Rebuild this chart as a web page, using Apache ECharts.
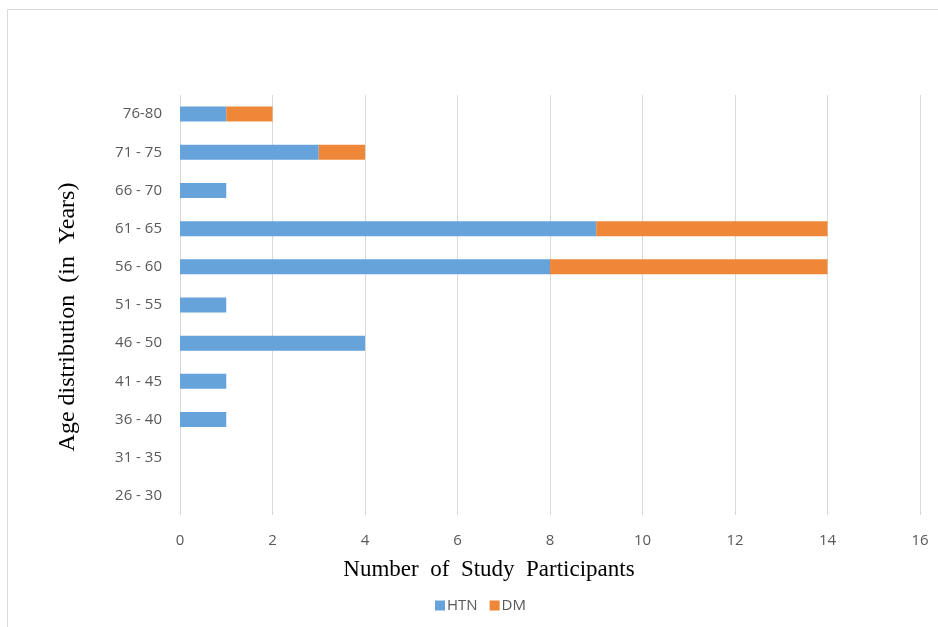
<!DOCTYPE html>
<html>
<head>
<meta charset="utf-8">
<script src="https://cdn.jsdelivr.net/npm/echarts@6/dist/echarts.min.js"></script>
<style>
  html, body { margin: 0; padding: 0; background: #fff; }
  #chart { width: 938px; height: 627px; }
</style>
</head>
<body>
<div id="chart"></div>
<script>
// Age groups, listed bottom to top
const ageGroups = ['26 - 30', '31 - 35', '36 - 40', '41 - 45', '46 - 50', '51 - 55',
                   '56 - 60', '61 - 65', '66 - 70', '71 - 75', '76-80'];
// Participants per age group
const htnCounts = [0, 0, 1, 1, 4, 1, 8, 9, 1, 3, 1];
const dmCounts  = [0, 0, 0, 0, 0, 0, 6, 5, 0, 1, 1];
// Value axis range
const xMin = 0, xMax = 16, xStep = 2;

const labelFont = '"Open Sans", "Noto Sans", sans-serif';
const serifFont = '"Liberation Serif", "DejaVu Serif", serif';

const chart = echarts.init(document.getElementById('chart'));
chart.setOption({
  animation: false,
  backgroundColor: '#ffffff',
  grid: { left: 180, right: 18, top: 95, bottom: 112, containLabel: false },
  xAxis: {
    type: 'value',
    min: xMin, max: xMax, interval: xStep,
    axisLine: { show: false },
    axisTick: { show: false },
    axisLabel: { color: '#595959', fontSize: 15, fontFamily: labelFont, margin: 18 },
    splitLine: { show: true, lineStyle: { color: '#d9d9d9', width: 1 } }
  },
  yAxis: {
    type: 'category',
    data: ageGroups,
    axisLine: { show: false },
    axisTick: { show: false },
    axisLabel: { color: '#595959', fontSize: 15, fontFamily: labelFont, margin: 18 },
    splitLine: { show: false }
  },
  legend: {
    data: ['HTN', 'DM'],
    left: 430, top: 593,
    itemWidth: 10, itemHeight: 10, itemGap: 12,
    icon: 'rect',
    textStyle: { color: '#595959', fontSize: 15, fontFamily: labelFont, padding: [0, 0, 0, -3] }
  },
  series: [
    {
      name: 'HTN', type: 'bar', stack: 'total', data: htnCounts,
      barWidth: 15, itemStyle: { color: '#65a3da' }
    },
    {
      name: 'DM', type: 'bar', stack: 'total', data: dmCounts,
      barWidth: 15, itemStyle: { color: '#ef8739' }
    }
  ],
  graphic: [
    // outer frame lines
    { type: 'line', shape: { x1: 7.5, y1: 9.5, x2: 938, y2: 9.5 }, style: { stroke: '#d9d9d9', lineWidth: 1 } },
    { type: 'line', shape: { x1: 7.5, y1: 9.5, x2: 7.5, y2: 627 }, style: { stroke: '#d9d9d9', lineWidth: 1 } },
    // axis titles
    {
      type: 'text', x: 489, y: 570,
      style: { text: 'Number  of  Study  Participants', font: '23px ' + serifFont,
               fill: '#000', align: 'center', verticalAlign: 'middle' }
    },
    {
      type: 'text', x: 68, y: 317, rotation: Math.PI / 2,
      style: { text: 'Age distribution  (in  Years)', font: '24px ' + serifFont,
               fill: '#000', align: 'center', verticalAlign: 'middle' }
    }
  ]
});
</script>
</body>
</html>
